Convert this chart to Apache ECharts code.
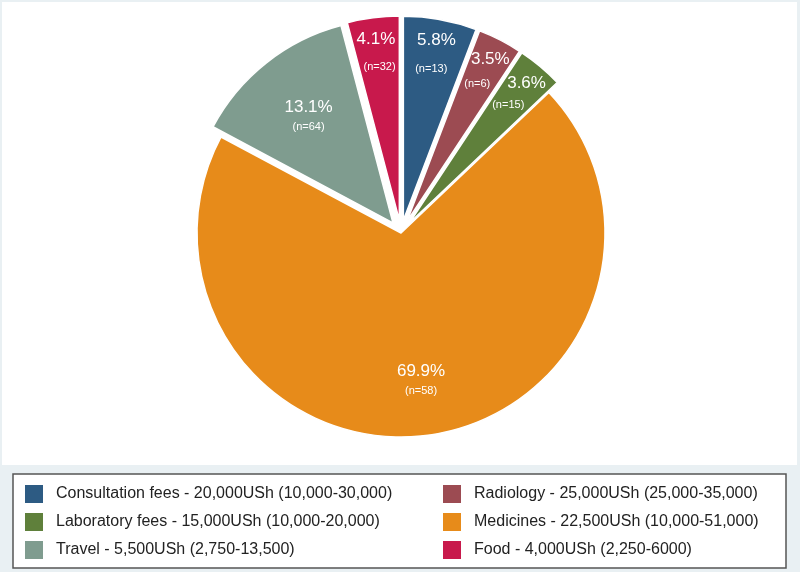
<!DOCTYPE html>
<html>
<head>
<meta charset="utf-8">
<script src="https://cdn.jsdelivr.net/npm/echarts@6/dist/echarts.min.js"></script>
<style>
  html, body { margin: 0; padding: 0; background: #e9f0f3; }
  #main { width: 800px; height: 572px; }
</style>
</head>
<body>
<div id="main"></div>
<script>
// slices, clockwise from 12 o'clock
var names = [
    'Consultation fees - 20,000USh (10,000-30,000)'
    ,'Radiology - 25,000USh (25,000-35,000)'
    ,'Laboratory fees - 15,000USh (10,000-20,000)'
    ,'Medicines - 22,500USh (10,000-51,000)'
    ,'Travel - 5,500USh (2,750-13,500)'
    ,'Food - 4,000USh (2,250-6000)'
];
var shares = [5.8, 3.5, 3.6, 69.9, 13.1, 4.1];     // percent
var counts = [13, 6, 15, 58, 64, 32];               // n
var colors = ['#2d5b83', '#9c4b52', '#5f803b', '#e78b1a', '#7f9c8f', '#c8194c'];
var pulled = [true, true, true, false, true, true];  // exploded slices

var legendLeft = [0, 2, 4];
var legendRight = [1, 3, 5];

var chart = echarts.init(document.getElementById('main'), null, {renderer: 'canvas'});

var center = [401, 233], R = 204, OFFSET = 13;
var font = '"Liberation Sans", Arial, sans-serif';

// which slices each label layer writes on
var small = [true, true, true, false, false, true];
var onlyMed = [false, false, false, true, false, false];
var onlyTravel = [false, false, false, false, true, false];

function pieData(mask) {
    return shares.map(function (v, i) {
        var item = {
            name: names[i]
            ,value: v
            ,selected: pulled[i]
            ,itemStyle: {color: mask ? 'rgba(0,0,0,0)' : colors[i]}
        };
        if (mask) item.label = {show: mask[i]};
        return item;
    });
}

var fmt = {
    pct: function (p) { return '{p|' + p.value.toFixed(1) + '%}'; }
    ,n: function (p) { return '{n|(n=' + counts[p.dataIndex] + ')}'; }
    ,both: function (p) {
        return '{p|' + p.value.toFixed(1) + '%}\n{n|(n=' + counts[p.dataIndex] + ')}';
    }
};

// transparent copies of the pie that only carry the labels
function labelSeries(kind, r0, mask) {
    return {
        type: 'pie'
        ,silent: true
        ,center: center
        ,radius: [r0, R]
        ,startAngle: 90
        ,selectedMode: 'multiple'
        ,selectedOffset: OFFSET
        ,avoidLabelOverlap: false
        ,labelLayout: {hideOverlap: false}
        ,itemStyle: {borderWidth: 0}
        ,emphasis: {disabled: true}
        ,label: {
            show: true
            ,position: 'inside'
            ,formatter: fmt[kind]
            ,rich: {
                p: {fontSize: 17, color: '#fff', fontFamily: font, lineHeight: 21, align: 'center'}
                ,n: {fontSize: 11, color: '#fff', fontFamily: font, lineHeight: 18, align: 'center'}
            }
        }
        ,labelLine: {show: false}
        ,data: pieData(mask)
    };
}

function legendOf(idx, left) {
    return {
        orient: 'vertical'
        ,left: left
        ,top: 483
        ,height: 90
        ,padding: 0
        ,itemWidth: 20
        ,itemHeight: 20
        ,itemGap: 6
        ,icon: 'rect'
        ,selectedMode: false
        ,textStyle: {fontSize: 16, color: '#222', fontFamily: font, padding: [0, 0, 0, 7]}
        ,data: idx.map(function (i) {
            return {name: names[i], itemStyle: {color: colors[i]}};
        })
    };
}

chart.setOption({
    animation: false
    ,backgroundColor: '#e9f0f3'
    ,graphic: [
        {type: 'rect', z: -10, shape: {x: 2, y: 2, width: 795, height: 463}, style: {fill: '#fff'}}
        ,{type: 'rect', z: -10, shape: {x: 13, y: 474, width: 773, height: 94},
            style: {fill: '#fff', stroke: '#555', lineWidth: 1.5}}
    ]
    ,legend: [legendOf(legendLeft, 23), legendOf(legendRight, 441)]
    ,series: [
        {
            type: 'pie'
            ,center: center
            ,radius: [0, R]
            ,startAngle: 90
            ,selectedMode: 'multiple'
            ,selectedOffset: OFFSET
            ,itemStyle: {borderColor: '#fff', borderWidth: 1.5}
            ,emphasis: {disabled: true}
            ,label: {show: false}
            ,labelLine: {show: false}
            ,data: pieData(null)
        }
        ,labelSeries('pct', 155, small)
        ,labelSeries('n', 98, small)
        ,labelSeries('both', 88, onlyMed)
        ,labelSeries('both', 62, onlyTravel)
    ]
});
</script>
</body>
</html>
